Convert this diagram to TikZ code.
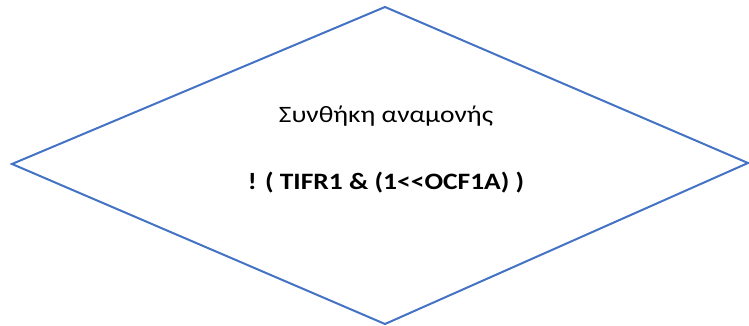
\documentclass[tikz,border=0pt]{standalone}
\usepackage{fontspec}
\usepackage{graphicx}
\setmainfont{Carlito}[Ligatures=TeXOff]
\definecolor{shapeblue}{HTML}{4472C4}
\newcommand{\widetxt}[1]{\scalebox{1.17}[1]{#1}}
\tikzset{diamondline/.style={draw=shapeblue, line width=2pt, line join=miter},
  txt/.style={anchor=base, inner sep=0pt, font=\fontsize{23.5}{28}\selectfont}}
\begin{document}
\begin{tikzpicture}[x=1pt,y=-1pt]
\useasboundingbox (0,0) rectangle (749,326);
\coordinate (t) at (385,7);
\coordinate (r) at (748,163);
\coordinate (b) at (385,324);
\coordinate (l) at (12,164);
\draw[diamondline] (t) -- (r) -- (b) -- (l) -- cycle;
\node[txt] (lbl) at (386,122) {\widetxt{Συνθήκη αναμονής}};
\node[txt, font=\fontsize{23.5}{28}\selectfont\bfseries] (cond) at (386,189) {\widetxt{! ( TIFR1 \& (1<<OCF1A) )}};
\end{tikzpicture}
\end{document}
